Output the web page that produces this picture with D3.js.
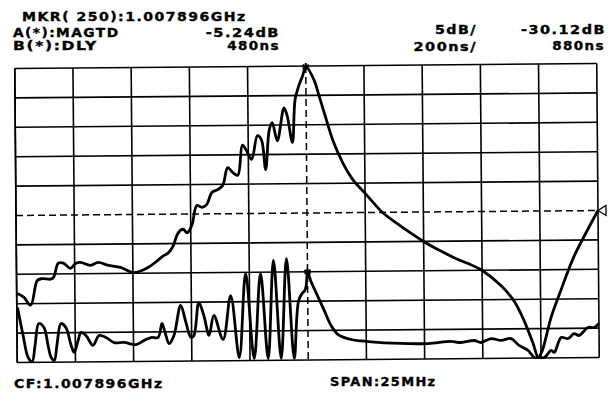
<!DOCTYPE html>
<html>
<head>
<meta charset="utf-8">
<script src="https://cdn.jsdelivr.net/npm/d3@7"></script>
<style>
  body { margin: 0; background: #fff; }
  text { font-family: "DejaVu Sans", sans-serif; font-weight: bold; font-size: 11.5px; letter-spacing: 1.2px; fill: #000; stroke: #000; stroke-width: 0.35px; }
</style>
</head>
<body>
<div id="chart"></div>
<script>
// trace A: magnitude (MHz offset from CF, dB)
const magFreq = [-12.47, -12.2, -11.9, -11.61, -11.4, -11.04, -10.91, -10.7, -10.48, -10.18, -9.97, -9.75, -9.32, -8.98, -8.59, -8.03, -7.47, -6.87, -6.44, -6.19, -5.97, -5.76, -5.54, -5.33, -5.15, -4.94, -4.73, -4.51, -4.3, -4.08, -3.82, -3.61, -3.39, -3.18, -2.96, -2.75, -2.58, -2.36, -2.1, -1.93, -1.76, -1.59, -1.46, -1.25, -0.95, -0.82, -0.6, -0.47, -0.3, -0.13, 0, 0.34, 0.56, 0.86, 1.12, 1.55, 1.98, 2.58, 3.26, 3.99, 5.07, 5.84, 6.49, 6.87, 7.52, 8.29, 8.85, 9.28, 9.66, 9.88, 10.05, 10.22, 10.44, 10.87, 11.43, 12.03, 12.5];
const magDb = [-43.4, -44.0, -45.4, -41.2, -40.9, -41.0, -40.7, -38.3, -38.3, -39.2, -38.4, -38.2, -38.7, -38.2, -38.7, -39.1, -40.0, -39.2, -38.0, -37.2, -36.7, -35.5, -33.3, -32.7, -33.3, -31.9, -28.7, -29.0, -28.5, -26.5, -26.0, -25.3, -22.3, -23.1, -23.6, -18.5, -19.4, -20.9, -16.9, -17.6, -22.7, -15.9, -14.7, -17.8, -12.2, -13.5, -18.1, -10.8, -8.4, -6.7, -5.24, -7.4, -10.2, -14.2, -17.6, -21.6, -24.5, -27.2, -30.2, -32.4, -35.3, -37.0, -38.3, -38.9, -40.2, -42.7, -45.3, -48.7, -52.6, -55.0, -53.9, -51.6, -48.3, -43.7, -38.1, -33.5, -30.12];

// trace B: group delay (MHz offset from CF, ns)
const dlyFreq = [-12.47, -12.24, -12.03, -11.86, -11.73, -11.56, -11.34, -11.17, -11.04, -10.91, -10.78, -10.61, -10.4, -10.18, -10.05, -9.88, -9.75, -9.54, -9.24, -8.98, -8.68, -8.33, -7.9, -7.39, -7.04, -6.74, -6.44, -6.27, -6.14, -5.97, -5.76, -5.46, -5.24, -5.03, -4.9, -4.68, -4.47, -4.25, -4.04, -3.65, -3.31, -2.96, -2.66, -2.32, -2.02, -1.72, -1.46, -1.16, -0.9, -0.6, -0.39, -0.21, -0.12, -0.06, 0, 0.13, 0.3, 0.69, 0.99, 1.29, 1.85, 2.58, 3.99, 5.15, 6.14, 6.57, 7.13, 7.43, 7.86, 8.29, 8.72, 9.06, 9.45, 9.71, 9.92, 10.14, 10.44, 10.57, 10.87, 11.17, 11.43, 11.64, 12.03, 12.29, 12.5];
const dlyNs = [254, 64, -87, -115, -5, 144, 116, -6, -88, -108, 7, 142, 115, -7, -55, 26, 80, 60, -8, 59, 45, 10, 10, -5, 23, 42, 42, 137, 75, 0, 55, 258, 142, 40, 54, 277, 189, 53, 188, 25, 323, -99, 472, -107, 471, -108, 559, -108, 571, -109, 286, 339, 353, 387, 480, 421, 359, 222, 114, 51, 17, 2, -13, -15, -2, -10, 3, -11, 15, 2, 14, -33, -68, -116, -118, -117, -69, -83, 18, 11, 44, 31, 85, 84, 111];

const freqGrid = [-12.5, -10, -7.5, -5, -2.5, 2.5, 5, 7.5, 10, 12.5];
const dbGrid = [-55.12, -50.12, -45.12, -40.12, -35.12, -25.12, -20.12, -15.12, -10.12, -5.12];
const refDb = -30.12;
const markerFreq = 0;

const headerLeft = ["A(*):MAGTD", "B(*):DLY"];
const headerLeftVal = ["-5.24dB", "480ns"];
const headerScale = ["5dB/", "200ns/"];
const headerRef = ["-30.12dB", "880ns"];

const width = 616, height = 393;
const margin = {top: 66, right: 18, bottom: 33, left: 16};
const plotW = width - margin.left - margin.right;
const plotH = height - margin.top - margin.bottom;

const svg = d3.select('#chart').append('svg')
  .attr('width', width)
  .attr('height', height);
svg.append('rect').attr('width', width).attr('height', height).attr('fill', '#fff');

// the scan is slightly rotated
const plot = svg.append('g')
  .attr('transform', `rotate(-0.49, ${margin.left + plotW / 2}, 213) translate(${margin.left},${margin.top})`);

const x = d3.scaleLinear().domain([-12.5, 12.5]).range([0, plotW]);
const yA = d3.scaleLinear().domain([-55.12, -5.12]).range([plotH, 0]);
const yB = d3.scaleLinear().domain([-120, 1880]).range([plotH, 0]);

plot.append('clipPath').attr('id', 'clip')
  .append('rect').attr('x', -1).attr('y', -1).attr('width', plotW + 2).attr('height', plotH + 2);

// grid
plot.selectAll('.vgrid').data(freqGrid).join('line')
  .attr('x1', d => x(d)).attr('x2', d => x(d))
  .attr('y1', 0).attr('y2', plotH)
  .attr('stroke', '#000').attr('stroke-width', 1.6);
plot.selectAll('.hgrid').data(dbGrid).join('line')
  .attr('x1', 0).attr('x2', plotW)
  .attr('y1', d => yA(d)).attr('y2', d => yA(d))
  .attr('stroke', '#000').attr('stroke-width', 1.6);

// reference line and marker line
plot.append('line')
  .attr('x1', 0).attr('x2', plotW)
  .attr('y1', yA(refDb)).attr('y2', yA(refDb))
  .attr('stroke', '#000').attr('stroke-width', 1.5).attr('stroke-dasharray', '7,4');
plot.append('line')
  .attr('x1', x(markerFreq)).attr('x2', x(markerFreq))
  .attr('y1', 0).attr('y2', plotH)
  .attr('stroke', '#000').attr('stroke-width', 1.5).attr('stroke-dasharray', '7,4');

// left border line
plot.append('line')
  .attr('x1', 0).attr('x2', 0).attr('y1', 0).attr('y2', plotH)
  .attr('stroke', '#000').attr('stroke-width', 1.6);

// traces
const magData = magFreq.map((f, i) => [f, magDb[i]]);
const dlyData = dlyFreq.map((f, i) => [f, dlyNs[i]]);

const traces = plot.append('g').attr('clip-path', 'url(#clip)');
traces.append('path')
  .datum(magData)
  .attr('fill', 'none')
  .attr('stroke', '#000')
  .attr('stroke-width', 2.8)
  .attr('stroke-linejoin', 'round')
  .attr('d', d3.line().curve(d3.curveCatmullRom.alpha(0.5))
    .x(d => x(d[0]))
    .y(d => yA(d[1])));
traces.append('path')
  .datum(dlyData)
  .attr('fill', 'none')
  .attr('stroke', '#000')
  .attr('stroke-width', 2.8)
  .attr('stroke-linejoin', 'round')
  .attr('d', d3.line().curve(d3.curveCatmullRom.alpha(0.5))
    .x(d => x(d[0]))
    .y(d => yB(d[1])));

// markers
const star = d3.symbol(d3.symbolAsterisk, 36);
plot.append('path').attr('d', star)
  .attr('transform', `translate(${x(markerFreq)},${yA(-5.24)})`)
  .attr('stroke', '#000').attr('stroke-width', 2).attr('fill', 'none');
plot.append('path').attr('d', star)
  .attr('transform', `translate(${x(markerFreq)},${yB(480)})`)
  .attr('stroke', '#000').attr('stroke-width', 2).attr('fill', 'none');

// reference triangle
plot.append('path')
  .attr('d', `M${plotW},${yA(refDb)} l8,-5 l0,10 z`)
  .attr('fill', '#fff').attr('stroke', '#000').attr('stroke-width', 1.3);

// annotation text (plotter font: fixed pitch, wide glyphs)
const pitch = 10.75;
function label(str, x0, y0) {
  svg.append('text')
    .attr('x', x0).attr('y', y0)
    .attr('textLength', str.length * pitch - 1)
    .attr('lengthAdjust', 'spacingAndGlyphs')
    .text(str);
}
function labelEnd(str, x1, y0) {
  label(str, x1 - (str.length * pitch - 1), y0);
}

label('MKR( 250):1.007896GHz', 22, 20.7);
label(headerLeft[0], 13, 37.3);
label(headerLeft[1], 13, 50.2);
labelEnd(headerLeftVal[0], 280, 36.7);
labelEnd(headerLeftVal[1], 280, 50);
labelEnd(headerScale[0], 477, 34.3);
labelEnd(headerScale[1], 477, 50.5);
labelEnd(headerRef[0], 606, 34.3);
labelEnd(headerRef[1], 605, 50);
label('CF:1.007896GHz', 14, 388);
label('SPAN:25MHz', 330, 386);
</script>
</body>
</html>
